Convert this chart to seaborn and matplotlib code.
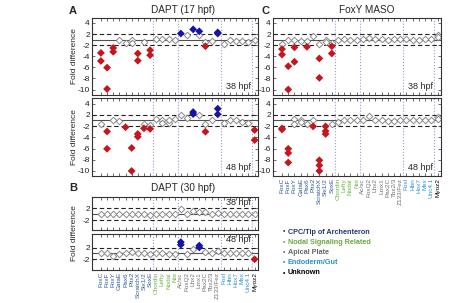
import numpy as np
import pandas as pd
import matplotlib
matplotlib.use("Agg")
import matplotlib.pyplot as plt
import seaborn as sns

# ---------------- data ----------------
genes = ["FoxC", "FoxF", "FoxY", "GataE", "Pax6", "Pitx2", "ScratchX", "Six1/2", "SoxE",
         "Chordin", "Lefty", "Nodal", "Not",
         "Ac/sc", "FoxQ2", "Lhx2", "Lmx1", "Pax2C", "Tbx2/3", "Z133/Fez",
         "FoxI", "Hbn", "Hox7", "Msx", "Unc4.1",
         "Myoz2"]
gene_groups = ["CPC"] * 9 + ["Nodal"] * 4 + ["Apical"] * 7 + ["Endo"] * 5 + ["Unknown"]
group_bounds = [8.5, 12.5, 19.5, 24.5]

legend_labels = ["CPC/Tip of Archenteron", "Nodal Signaling Related", "Apical Plate",
                 "Endoderm/Gut", "Unknown"]
legend_groups = ["CPC", "Nodal", "Apical", "Endo", "Unknown"]

# fold difference replicates per gene
dapt17_38 = [[-3.4, -4.85], [-6.05, -9.9], [-2.5, -3.2], [-1.15], [-1.6], [1.0, -1.6],
             [-3.5, -4.8], [-1.5], [-2.9, -3.8],
             [1.1], [1.1], [1.1], [-1.1],
             [2.1], [1.9], [2.85], [2.5, 1.9], [-1.4, -2.2], [-1.25], [2.3, 2.1],
             [-1.8], [1.0], [-1.2], [-1.3], [-1.5],
             [1.0]]
dapt17_48 = [[-1.7], [-2.96, -6.05], [1.0], [-1.1], [-2.2], [-5.9, -10.0],
             [-3.4, -3.9], [-1.7, -2.4], [-1.8, -2.5],
             [1.2], [1.0, -1.5], [-1.5, 1.0], [1.2],
             [1.9], [1.4], [2.5, 2.15], [1.9], [-1.7, -3.0], [1.0], [3.1, 2.1],
             [-1.4], [1.0], [1.0], [-1.2], [-1.4],
             [-2.7, -4.5]]
dapt30_38 = [[1.0], [1.05], [-1.05], [1.0], [1.0], [1.0], [1.0], [1.0], [-1.1],
             [1.1], [1.0], [-1.05], [1.0],
             [1.95], [-1.05], [1.5], [1.35], [1.3], [1.0], [1.2],
             [1.0], [1.0], [1.0], [1.0], [1.0],
             [1.0]]
dapt30_48 = [[1.0], [1.1], [-1.5], [-1.1], [1.0], [1.3], [1.1], [1.0], [-1.05],
             [1.1], [1.0], [-1.05], [-1.05],
             [2.5, 2.95], [-1.1], [1.75], [2.05, 2.35], [1.3], [1.1], [1.4],
             [1.0], [1.1], [1.0], [1.0], [1.0],
             [-2.0]]
foxy_38 = [[-1.7, -2.7, -3.7], [1.0, -5.8, -10.0], [1.0, -2.4, -5.0], [-1.3], [-1.2, -2.3],
           [1.6], [-1.7, -4.4, -7.9], [1.0, -1.5], [-1.6, -2.2, -3.5],
           [1.0], [1.05], [1.0], [-1.05],
           [1.2], [1.25], [1.1], [1.1], [1.0], [1.1], [1.2],
           [1.1], [1.0], [-1.1], [1.1], [1.2],
           [1.8, 1.4]]
foxy_48 = [[-2.4, -2.6], [-6.05, -6.8, -8.5], [1.35, -1.7], [1.0, -1.3], [-1.7],
           [1.0, -2.05], [-8.1, -9.0, -10.0], [-2.05, -2.9, -3.4], [-1.7],
           [-1.2], [1.0], [1.1], [1.1],
           [1.1], [1.75], [1.1], [1.0], [-1.05], [-1.05], [1.0],
           [1.1], [1.0], [1.0], [1.0], [1.0],
           [1.7, 1.2]]

big_ticks = [4, 2, -2, -4, -6, -8, -10]
small_ticks = [2, -2]

# ---------------- style ----------------
sns.set_style("ticks")
plt.rcParams["font.family"] = ["Liberation Sans", "DejaVu Sans"]
plt.rcParams["axes.unicode_minus"] = False

label_colors = {"CPC": "#2f5597", "Nodal": "#6cb33f", "Apical": "#707070",
                "Endo": "#2a8fd6", "Unknown": "#000000"}
legend_colors = {"CPC": "#1f3a73", "Nodal": "#6aa842", "Apical": "#666666",
                 "Endo": "#2b8fd0", "Unknown": "#000000"}
RED, BLUE, GREY = "#c4161c", "#1414a8", "#8a8a8a"

W, H = 468, 303
fig = plt.figure(figsize=(W / 100, H / 100), dpi=100)


def add_ax(x0, y0, x1, y1):
    return fig.add_axes([x0 / W, 1 - y1 / H, (x1 - x0) / W, (y1 - y0) / H])


def fwd(f):
    f = np.asarray(f, dtype=float)
    return np.where(f >= 1, f - 1, np.where(f <= -1, f + 1, 0.0))


def inv(y):
    y = np.asarray(y, dtype=float)
    return np.where(y >= 0, y + 1, y - 1)


def draw(ax, reps, ylim, yticks, tag, tag_top, show_xlabels):
    rows = [(i, v) for i, vals in enumerate(reps) for v in vals]
    df = pd.DataFrame(rows, columns=["pos", "fold"])
    df["status"] = np.where(df.fold >= 2, "up", np.where(df.fold <= -2, "down", "ns"))
    ns = df[df.status == "ns"]
    sig = df[df.status != "ns"]
    for b in group_bounds:
        ax.axvline(b, color="#9a9ae6", ls=":", lw=0.8, zorder=0.5)
    ax.axhline(1, color="#505050", lw=0.8, zorder=0.6)
    for h in (2, -2):
        ax.axhline(h, color="#222222", lw=0.8, ls=(0, (4, 2.5)), zorder=0.6)
    sns.scatterplot(data=ns, x="pos", y="fold", marker="D", s=11, color="white",
                    edgecolor=GREY, linewidth=0.7, ax=ax, legend=False, zorder=2)
    if len(sig):
        sns.scatterplot(data=sig, x="pos", y="fold", hue="status",
                        palette={"up": BLUE, "down": RED}, marker="D", s=16,
                        linewidth=0, ax=ax, legend=False, zorder=3)
    ax.set_yscale("function", functions=(fwd, inv))
    ax.set_ylim(*ylim)
    ax.set_xlim(-1.45, 25.55)
    ax.set_xticks(range(len(genes)))
    ax.set_yticks(yticks)
    ax.set_yticklabels([str(t) for t in yticks])
    ax.set_xlabel("")
    ax.set_ylabel("")
    ax.tick_params(direction="in", top=True, right=True, length=2, width=0.5,
                   labelsize=6, pad=1.5, colors="#333333", labelcolor="#222222")
    if show_xlabels:
        ax.set_xticklabels(genes, rotation=90, fontsize=4.6)
        for lab, g in zip(ax.get_xticklabels(), gene_groups):
            lab.set_color(label_colors[g])
    else:
        ax.set_xticklabels([])
    for sp in ax.spines.values():
        sp.set_linewidth(0.8)
        sp.set_color("#333333")
    if tag_top:
        ax.text(0.955, 0.96, tag, transform=ax.transAxes, ha="right", va="top", fontsize=6.5)
    else:
        ax.text(0.955, 0.05, tag, transform=ax.transAxes, ha="right", va="bottom", fontsize=6.5)


big_lim = (-10.9, 4.9)
axA1 = add_ax(92, 18, 258, 94.5)
axA2 = add_ax(92, 97.5, 258, 176)
axB1 = add_ax(92, 196.5, 258, 230)
axB2 = add_ax(92, 234, 258, 270)
axC1 = add_ax(273, 18, 441, 94.5)
axC2 = add_ax(273, 97.5, 441, 176)

draw(axA1, dapt17_38, big_lim, big_ticks, "38 hpf", False, False)
draw(axA2, dapt17_48, (-10.9, 5.1), big_ticks, "48 hpf", False, False)
draw(axB1, dapt30_38, (-3.7, 4.0), small_ticks, "38 hpf", True, False)
draw(axB2, dapt30_48, (-3.85, 4.35), small_ticks, "48 hpf", True, True)
draw(axC1, foxy_38, big_lim, big_ticks, "38 hpf", False, False)
draw(axC2, foxy_48, (-10.9, 5.1), big_ticks, "48 hpf", False, True)

# panel letters and titles
fig.text(73 / W, 1 - 11 / H, "A", fontsize=8, fontweight="bold", ha="center", va="center")
fig.text(183 / W, 1 - 10 / H, "DAPT (17 hpf)", fontsize=7.2, ha="center", va="center")
fig.text(73 / W, 1 - 188 / H, "B", fontsize=8, fontweight="bold", ha="center", va="center")
fig.text(183 / W, 1 - 188 / H, "DAPT (30 hpf)", fontsize=7.2, ha="center", va="center")
fig.text(266 / W, 1 - 11 / H, "C", fontsize=8, fontweight="bold", ha="center", va="center")
fig.text(367 / W, 1 - 10 / H, "FoxY MASO", fontsize=7.2, ha="center", va="center")

for yc in (56, 137, 233):
    fig.text(74.5 / W, 1 - yc / H, "Fold difference", rotation=90, fontsize=6,
             ha="center", va="center")

# legend as text
for k, (lab, g) in enumerate(zip(legend_labels, legend_groups)):
    y = 1 - (232 + 10.25 * k) / H
    fig.text(283.5 / W, y, "\u2022", color=legend_colors[g], fontsize=5,
             ha="center", va="center")
    fig.text(287.5 / W, y, lab, color=legend_colors[g], fontsize=5.2,
             fontweight="bold", ha="left", va="center")

fig.savefig("out.png", dpi=100)
